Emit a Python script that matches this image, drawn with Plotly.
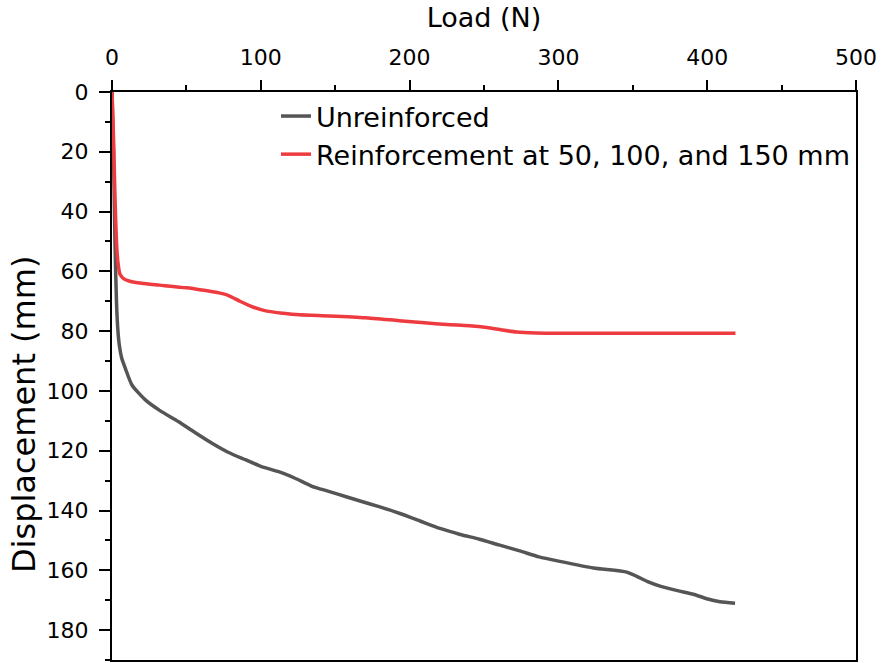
import plotly.graph_objects as go

# Data
load_unreinforced = [0, 1, 2, 3, 4, 5, 6.5, 9, 13.4, 22.4, 32, 44.8, 56, 67.2, 78, 89.6, 100,
                     112, 123, 134, 145.6, 156.8, 166.7, 180, 193.5, 207, 220.4, 234, 247, 260,
                     274, 287, 301, 323.5, 345.9, 352.6, 360, 368.3, 380, 390.7, 399.7, 408.6, 418.7]
disp_unreinforced = [0, 20, 50, 70, 80, 85, 89, 92.5, 98, 103, 106.5, 110.3, 114, 117.5, 120.5,
                     123, 125.2, 127, 129.2, 131.8, 133.6, 135.3, 136.8, 138.8, 141, 143.5, 146,
                     148, 149.6, 151.5, 153.5, 155.5, 157, 159.2, 160.6, 162, 163.8, 165.3,
                     166.8, 168, 169.5, 170.5, 171]

load_reinforced = [0, 1, 2, 3, 4, 5.4, 8, 12, 20, 32, 50, 60, 70, 78, 86, 95, 104, 115, 126,
                   146, 170, 193, 210, 225, 240, 252, 262, 272, 285, 300, 350, 419]
disp_reinforced = [0, 15, 35, 50, 57, 61, 62.5, 63.3, 64, 64.6, 65.5, 66.2, 67, 68, 70, 72,
                   73.3, 74, 74.5, 74.9, 75.5, 76.5, 77.2, 77.8, 78.2, 78.8, 79.6, 80.3, 80.6,
                   80.7, 80.7, 80.7]

series_names = ["Unreinforced", "Reinforcement at 50, 100, and 150 mm"]
series_colors = ["#555555", "#ee3b40"]

x_ticks = [0, 100, 200, 300, 400, 500]
y_ticks = [0, 20, 40, 60, 80, 100, 120, 140, 160, 180]

FONT = "DejaVu Sans"

fig = go.Figure()
fig.add_trace(go.Scatter(x=load_unreinforced, y=disp_unreinforced, mode="lines",
                         name=series_names[0], line=dict(color=series_colors[0], width=3.5, shape="spline", smoothing=0.6)))
fig.add_trace(go.Scatter(x=load_reinforced, y=disp_reinforced, mode="lines",
                         name=series_names[1], line=dict(color=series_colors[1], width=3.5, shape="spline", smoothing=0.6)))

fig.update_layout(
    width=881, height=663,
    margin=dict(l=112, r=25, t=92, b=1),
    paper_bgcolor="white", plot_bgcolor="white",
    font=dict(family=FONT, color="black", size=22),
    showlegend=True,
    legend=dict(x=0.2204, y=1.0, xanchor="left", yanchor="top",
                bgcolor="rgba(0,0,0,0)", borderwidth=0,
                font=dict(family=FONT, size=27, color="black"),
                tracegroupgap=0, itemwidth=30),
    xaxis=dict(
        title=dict(text="Load (N)", font=dict(family=FONT, size=27), standoff=10),
        side="top", range=[0, 500], tickvals=x_ticks, ticktext=[str(v) for v in x_ticks],
        showline=True, linecolor="black", linewidth=2, mirror=True,
        ticks="outside", ticklen=10, tickwidth=2, tickcolor="black",
        minor=dict(ticks="outside", ticklen=5, tickwidth=2, tickcolor="black", dtick=50, showgrid=False),
        showgrid=False, zeroline=False, ticklabelstandoff=6,
        tickfont=dict(family=FONT, size=22),
    ),
    yaxis=dict(
        range=[190, 0], tickvals=y_ticks, ticktext=[str(v) for v in y_ticks],
        showline=True, linecolor="black", linewidth=2, mirror=True,
        ticks="outside", ticklen=11, tickwidth=2, tickcolor="black",
        minor=dict(ticks="outside", ticklen=5, tickwidth=2, tickcolor="black", dtick=10, showgrid=False),
        showgrid=False, zeroline=False, ticklabelstandoff=6,
        tickfont=dict(family=FONT, size=22),
    ),
    annotations=[dict(
        text="Displacement (mm)", textangle=-90, showarrow=False,
        xref="paper", yref="paper", x=-0.118, y=0.4316, xanchor="center", yanchor="middle",
        font=dict(family=FONT, size=32, color="black"),
    )],
)

fig.write_html("out.html")
